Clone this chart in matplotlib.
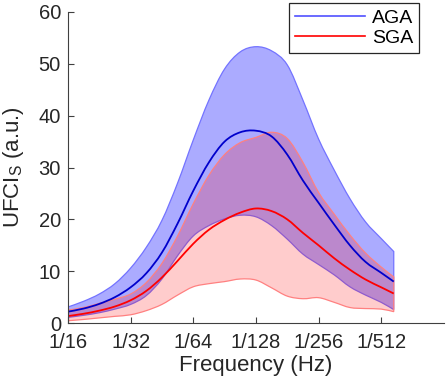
import matplotlib
matplotlib.use('Agg')
import matplotlib.pyplot as plt
from matplotlib.lines import Line2D
from matplotlib.path import Path
from matplotlib.patches import PathPatch

plt.rcParams['font.family'] = ['Liberation Sans', 'DejaVu Sans']
plt.rcParams['mathtext.fontset'] = 'custom'
plt.rcParams['mathtext.rm'] = 'Liberation Sans'
plt.rcParams['mathtext.sf'] = 'Liberation Sans'

# log2 of period (1/16 Hz -> 4, 1/512 Hz -> 9)
log2_period = [4.0, 4.25, 4.5, 4.75, 5.0, 5.25, 5.5, 5.75, 6.0, 6.25, 6.5,
               6.75, 7.0, 7.25, 7.5, 7.75, 8.0, 8.25, 8.5, 8.75, 9.0, 9.2]

aga_mean = [2.2, 2.8, 3.7, 5.0, 6.9, 9.6, 13.6, 19.2, 25.5, 31.0, 35.0,
            36.8, 37.1, 36.0, 32.5, 27.5, 23.2, 19.0, 15.0, 11.8, 9.7, 8.0]
aga_hi = [3.1, 4.2, 5.6, 7.6, 10.6, 14.6, 19.8, 27.0, 35.3, 43.0, 49.0,
          52.3, 53.3, 52.5, 49.8, 43.0, 35.5, 29.5, 24.0, 19.5, 16.3, 13.8]
aga_lo = [1.1, 1.5, 2.0, 2.7, 3.6, 5.3, 8.5, 13.0, 16.8, 18.8, 20.1,
          20.8, 20.5, 18.8, 16.2, 13.3, 11.3, 9.3, 7.0, 5.4, 4.0, 2.6]

sga_mean = [1.35, 1.8, 2.4, 3.2, 4.4, 6.2, 8.8, 12.0, 15.3, 18.0, 19.9,
            21.3, 22.1, 21.6, 20.0, 17.4, 15.0, 12.5, 10.3, 8.4, 6.9, 5.7]
sga_hi = [2.5, 3.0, 3.8, 4.6, 5.6, 7.8, 11.5, 16.8, 23.0, 28.5, 32.5,
          34.8, 35.8, 36.8, 35.6, 31.0, 25.2, 21.0, 17.0, 13.5, 10.8, 8.9]
sga_lo = [0.45, 0.7, 1.0, 1.3, 1.6, 2.4, 3.6, 5.4, 7.0, 7.6, 8.0,
          8.5, 8.3, 6.8, 5.2, 4.7, 4.9, 4.0, 3.0, 2.8, 2.7, 2.2]

tick_pos = [4, 5, 6, 7, 8, 9]
tick_labels = ['1/16', '1/32', '1/64', '1/128', '1/256', '1/512']


def smooth(xs, ys):
    # Catmull-Rom through the read points, as cubic Bezier path segments
    pts = list(zip(xs, ys))
    n = len(pts)
    verts = [pts[0]]
    codes = [Path.MOVETO]
    for i in range(n - 1):
        p0 = pts[max(i - 1, 0)]
        p1 = pts[i]
        p2 = pts[i + 1]
        p3 = pts[min(i + 2, n - 1)]
        c1 = (p1[0] + (p2[0] - p0[0]) / 6, p1[1] + (p2[1] - p0[1]) / 6)
        c2 = (p2[0] - (p3[0] - p1[0]) / 6, p2[1] - (p3[1] - p1[1]) / 6)
        verts += [c1, c2, p2]
        codes += [Path.CURVE4] * 3
    return verts, codes


def band(ax, xs, lo, hi, face, edge):
    v1, c1 = smooth(xs, hi)
    v2, c2 = smooth(xs[::-1], lo[::-1])
    c2[0] = Path.LINETO
    verts = v1 + v2 + [v1[0]]
    codes = c1 + c2 + [Path.CLOSEPOLY]
    ax.add_patch(PathPatch(Path(verts, codes), facecolor=face,
                           edgecolor=edge, linewidth=0.9))


def line(ax, xs, ys, color):
    v, c = smooth(xs, ys)
    ax.add_patch(PathPatch(Path(v, c), fill=False, edgecolor=color,
                           linewidth=1.3))


fig = plt.figure(figsize=(4.47, 3.86), dpi=100)
ax = fig.add_axes([0.152, 0.163, 0.841, 0.806])

band(ax, log2_period, aga_lo, aga_hi, (0, 0, 1, 0.33), (0.45, 0.45, 1.0))
band(ax, log2_period, sga_lo, sga_hi, (1, 0, 0, 0.2), (1.0, 0.5, 0.5))
line(ax, log2_period, aga_mean, '#0000cc')
line(ax, log2_period, sga_mean, '#ff0000')

ax.set_xlim(4, 10)
ax.set_ylim(0, 60)
ax.set_xticks(tick_pos)
ax.set_xticklabels(tick_labels)
ax.set_yticks(range(0, 61, 10))

for side in ['top', 'right']:
    ax.spines[side].set_visible(False)
for side in ['left', 'bottom']:
    ax.spines[side].set_color('#404040')
ax.tick_params(direction='in', length=4, width=0.8, color='#404040',
               labelsize=14.5, labelcolor='#262626')
ax.tick_params(axis='x', pad=7)
ax.tick_params(axis='y', pad=5)

ax.set_xlabel('Frequency (Hz)', fontsize=16, color='#262626', labelpad=2)
ax.set_ylabel('UFCI$_\\mathsf{S}$ (a.u.)', fontsize=16, color='#262626')
ax.yaxis.set_label_coords(-0.112, 0.5)

handles = [Line2D([], [], color='#5050ff', linewidth=1.2),
           Line2D([], [], color='#ff0000', linewidth=1.2)]
leg = ax.legend(handles, ['AGA', 'SGA'], loc='upper right',
                bbox_to_anchor=(0.937, 0.992), bbox_transform=fig.transFigure,
                borderaxespad=0, fontsize=14, fancybox=False, framealpha=1,
                handlelength=3.6, handletextpad=0.35, borderpad=0.3,
                labelspacing=0.15)
leg.get_frame().set_edgecolor('#262626')
leg.get_frame().set_linewidth(0.9)

fig.savefig('out.png', dpi=100)
